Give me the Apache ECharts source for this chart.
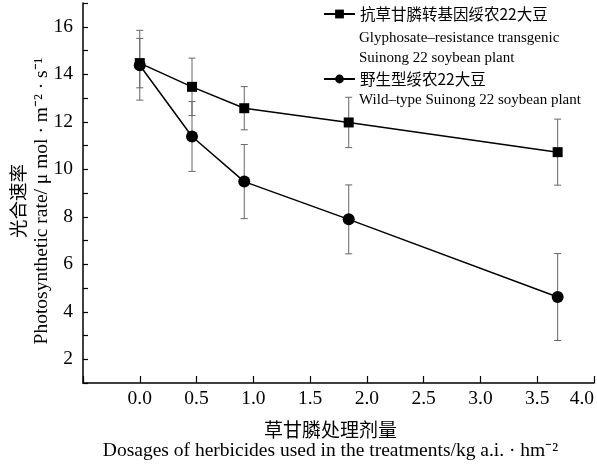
<!DOCTYPE html>
<html><head><meta charset="utf-8">
<script src="https://cdn.jsdelivr.net/npm/echarts/dist/echarts.min.js"></script>
<style>html,body{margin:0;padding:0;background:#fff}#c{width:597px;height:465px}</style>
</head><body><div id="c"></div>
<script>
// Data
const doses = [0, 0.46, 0.92, 1.84, 3.68];
const transgenicMean = [14.47, 13.47, 12.57, 11.97, 10.72];
const transgenicSD = [1.04, 1.21, 0.91, 1.06, 1.39];
const wildMean = [14.38, 11.38, 9.48, 7.89, 4.62];
const wildSD = [1.47, 1.47, 1.56, 1.45, 1.83];
const transgenicName = '抗草甘膦转基因绥农22大豆';
const transgenicNameEn = ['Glyphosate–resistance transgenic', 'Suinong 22 soybean plant'];
const wildName = '野生型绥农22大豆';
const wildNameEn = ['Wild–type Suinong 22 soybean plant'];
const yTitleCn = '光合速率';
const yTitleEn = 'Photosynthetic rate/ μ mol · m⁻² · s⁻¹';
const xTitleCn = '草甘膦处理剂量';
const xTitleEn = 'Dosages of herbicides used in the treatments/kg a.i. · hm⁻²';

const SERIF = '"Liberation Serif", "Noto Sans CJK SC", serif';
const CJK = '"Noto Sans CJK SC", "Liberation Serif", serif';

function pts(xs, ys) { return xs.map((x, i) => [x, ys[i]]); }
function errs(xs, ys, sd) { return xs.map((x, i) => [x, ys[i] - sd[i], ys[i] + sd[i]]); }

function errRender(params, api) {
  const x = api.value(0);
  const lo = api.coord([x, api.value(1)]);
  const hi = api.coord([x, api.value(2)]);
  const w = 3.5;
  const st = { stroke: '#666', lineWidth: 1 };
  return {
    type: 'group',
    children: [
      { type: 'line', shape: { x1: hi[0], y1: hi[1], x2: lo[0], y2: lo[1] }, style: st },
      { type: 'line', shape: { x1: hi[0] - w, y1: hi[1], x2: hi[0] + w, y2: hi[1] }, style: st },
      { type: 'line', shape: { x1: lo[0] - w, y1: lo[1], x2: lo[0] + w, y2: lo[1] }, style: st }
    ]
  };
}

const chart = echarts.init(document.getElementById('c'), null, { renderer: 'canvas' });
chart.setOption({
  animation: false,
  backgroundColor: '#fff',
  grid: { left: 83, right: 3, top: 3, bottom: 82, containLabel: false, outerBoundsMode: 'none' },
  legend: {
    data: [transgenicName, wildName],
    orient: 'vertical',
    left: 323, top: 5, padding: 0,
    itemWidth: 31, itemHeight: 11, itemGap: 47,
    textStyle: { fontFamily: CJK, fontSize: 15.5, color: '#000', lineHeight: 18 }
  },
  graphic: [
    { type: 'text', x: 359, y: 38, style: { text: transgenicNameEn[0], font: '15px ' + SERIF, fill: '#000', verticalAlign: 'middle' } },
    { type: 'text', x: 359, y: 58, style: { text: transgenicNameEn[1], font: '15px ' + SERIF, fill: '#000', verticalAlign: 'middle' } },
    { type: 'text', x: 359, y: 100, style: { text: wildNameEn[0], font: '15px ' + SERIF, fill: '#000', verticalAlign: 'middle' } }
  ],
  xAxis: {
    type: 'value', min: -0.5, max: 4.0, interval: 0.5,
    splitLine: { show: false },
    axisLine: { show: true, onZero: false, lineStyle: { color: '#000', width: 1.5 } },
    axisTick: { show: true, inside: true, length: 7, lineStyle: { color: '#000', width: 1.2 } },
    axisLabel: { fontFamily: SERIF, fontSize: 19.5, color: '#000', margin: 6, alignMaxLabel: 'right',
      formatter: v => v < 0 ? '' : v.toFixed(1) },
    name: '{cn|' + xTitleCn + '}\n{en|' + xTitleEn + '}',
    nameLocation: 'middle', nameGap: 36, nameMoveOverlap: false,
    nameTextStyle: { padding: [0, 16, 0, 0],
      rich: { cn: { fontFamily: CJK, fontSize: 19, lineHeight: 21, color: '#000' },
              en: { fontFamily: SERIF, fontSize: 19.5, lineHeight: 22, color: '#000' } } }
  },
  yAxis: {
    type: 'value', min: 1, max: 17, interval: 1,
    splitLine: { show: false },
    axisLine: { show: true, onZero: false, lineStyle: { color: '#000', width: 1.5 } },
    axisTick: { show: true, inside: true, length: 5, lineStyle: { color: '#000', width: 1.2 } },
    axisLabel: { fontFamily: SERIF, fontSize: 19.5, color: '#000', margin: 10,
      formatter: v => (v % 2 === 0 ? String(v) : '') },
    name: '{cn|' + yTitleCn + '}\n{en|' + yTitleEn + '}',
    nameLocation: 'middle', nameGap: 30, nameRotate: 90, nameMoveOverlap: false,
    nameTextStyle: { padding: [0, 16, 0, 0],
      rich: { cn: { fontFamily: CJK, fontSize: 18.5, lineHeight: 26, color: '#000' },
              en: { fontFamily: SERIF, fontSize: 19.5, lineHeight: 22, color: '#000' } } }
  },
  series: [
    { type: 'custom', name: 'err1', renderItem: errRender, data: errs(doses, transgenicMean, transgenicSD), z: 1, silent: true },
    { type: 'custom', name: 'err2', renderItem: errRender, data: errs(doses, wildMean, wildSD), z: 1, silent: true },
    { type: 'line', name: transgenicName, data: pts(doses, transgenicMean), symbol: 'rect', symbolSize: 10,
      itemStyle: { color: '#000' }, lineStyle: { color: '#000', width: 1.5 }, z: 3 },
    { type: 'line', name: wildName, data: pts(doses, wildMean), symbol: 'circle', symbolSize: 12,
      itemStyle: { color: '#000' }, lineStyle: { color: '#000', width: 1.5 }, z: 3 }
  ]
});
</script></body></html>
